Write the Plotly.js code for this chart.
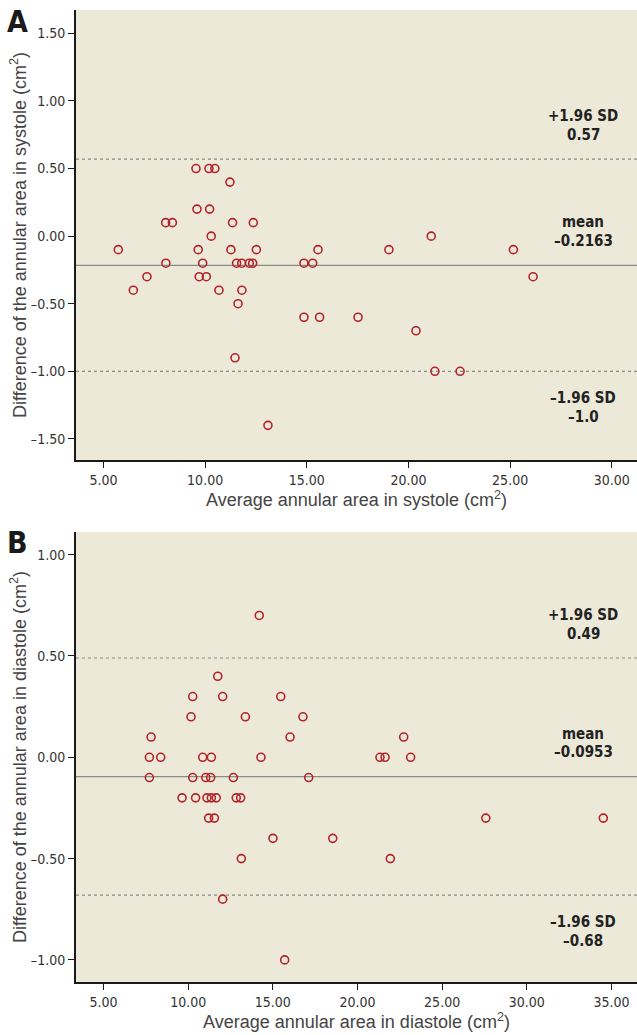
<!DOCTYPE html>
<html>
<head>
<meta charset="utf-8">
<script src="https://cdn.plot.ly/plotly-3.0.1.min.js"></script>
<style>html,body{margin:0;padding:0;background:#fff;}#chart{width:637px;height:1035px;}</style>
</head>
<body>
<div id="chart"></div>
<script>
// Panel A: systole
const xA = [5.73, 6.47, 7.14, 8.06, 8.39, 8.07, 9.55, 9.60, 9.66, 9.71, 9.88, 10.06, 10.19, 10.22, 10.30, 10.48, 10.68, 11.22, 11.27, 11.35, 11.47, 11.55, 11.62, 11.80, 11.81, 12.17, 12.34, 12.37, 12.52, 13.09, 14.86, 14.86, 15.29, 15.55, 15.63, 17.52, 19.04, 20.37, 21.12, 21.30, 22.54, 25.16, 26.13];
const yA = [-0.1, -0.4, -0.3, 0.1, 0.1, -0.2, 0.5, 0.2, -0.1, -0.3, -0.2, -0.3, 0.5, 0.2, 0.0, 0.5, -0.4, 0.4, -0.1, 0.1, -0.9, -0.2, -0.5, -0.2, -0.4, -0.2, -0.2, 0.1, -0.1, -1.4, -0.2, -0.6, -0.2, -0.1, -0.6, -0.6, -0.1, -0.7, 0.0, -1.0, -1.0, -0.1, -0.3];
// Panel B: diastole
const xB = [7.71, 7.71, 7.81, 8.38, 9.64, 10.17, 10.27, 10.27, 10.44, 10.86, 11.04, 11.11, 11.21, 11.33, 11.37, 11.37, 11.55, 11.66, 11.75, 12.04, 12.04, 12.67, 12.84, 13.10, 13.14, 13.38, 14.20, 14.30, 15.01, 15.47, 15.70, 16.02, 16.78, 17.12, 18.54, 21.33, 21.63, 21.94, 22.73, 23.14, 27.58, 34.52];
const yB = [0.0, -0.1, 0.1, 0.0, -0.2, 0.2, 0.3, -0.1, -0.2, 0.0, -0.1, -0.2, -0.3, -0.1, 0.0, -0.2, -0.3, -0.2, 0.4, 0.3, -0.7, -0.1, -0.2, -0.2, -0.5, 0.2, 0.7, 0.0, -0.4, 0.3, -1.0, 0.1, 0.2, -0.1, -0.4, 0.0, 0.0, -0.5, 0.1, 0.0, -0.3, -0.3];

// Limits of agreement: [+1.96 SD, mean, -1.96 SD]
const linesA = [0.57, -0.2163, -1.0];
const linesB = [0.49, -0.0953, -0.68];
const lineNames = ['+1.96 SD', 'mean', '\u20131.96 SD'];
const lineTextA = ['0.57', '\u20130.2163', '\u20131.0'];
const lineTextB = ['0.49', '\u20130.0953', '\u20130.68'];

// Tick values
const xTicksA = [5, 10, 15, 20, 25, 30];
const yTicksA = [1.5, 1.0, 0.5, 0.0, -0.5, -1.0, -1.5];
const xTicksB = [5, 10, 15, 20, 25, 30, 35];
const yTicksB = [1.0, 0.5, 0.0, -0.5, -1.0];

const titlesA = {x: 'Average annular area in systole (cm<sup>2</sup>)', y: 'Difference of the annular area in systole (cm<sup>2</sup>)'};
const titlesB = {x: 'Average annular area in diastole (cm<sup>2</sup>)', y: 'Difference of the annular area in diastole (cm<sup>2</sup>)'};
const panelLetters = ['A', 'B'];

const fmt = v => (v < 0 ? '\u2013' : '') + Math.abs(v).toFixed(2);

const markerStyle = {symbol: 'circle-open', size: 8, color: '#B3232A', line: {width: 1.6, color: '#B3232A'}};

const traces = [
  {x: xA, y: yA, type: 'scatter', mode: 'markers', marker: markerStyle, xaxis: 'x', yaxis: 'y', hoverinfo: 'x+y'},
  {x: xB, y: yB, type: 'scatter', mode: 'markers', marker: markerStyle, xaxis: 'x2', yaxis: 'y2', hoverinfo: 'x+y'}
];

const condensed = '"DejaVu Sans Condensed", "Liberation Sans Narrow", sans-serif';
const tickFont = {family: condensed, size: 14, color: '#333'};
const titleFont = {family: '"Liberation Sans", Arial, sans-serif', size: 18, color: '#444'};
const labelFont = {family: condensed, size: 15, color: '#222', weight: 'bold'};

function xAxis(range, ticks, title, anchor) {
  return {
    range: range, anchor: anchor, tickmode: 'array', tickvals: ticks, ticktext: ticks.map(fmt),
    showgrid: false, zeroline: false, showline: true, linecolor: '#1a1a1a', linewidth: 2,
    ticks: 'outside', ticklen: 6, tickwidth: 1, tickcolor: '#1a1a1a', tickfont: tickFont,
    title: {text: title, font: titleFont, standoff: 1}, automargin: false, mirror: false
  };
}
function yAxis(range, ticks, title, anchor, domain) {
  return {
    range: range, anchor: anchor, domain: domain, tickmode: 'array', tickvals: ticks, ticktext: ticks.map(fmt),
    showgrid: false, zeroline: false, showline: true, linecolor: '#1a1a1a', linewidth: 2,
    ticks: 'outside', ticklen: 6, tickwidth: 1, tickcolor: '#1a1a1a', tickfont: tickFont,
    title: {text: title, font: titleFont, standoff: 0}, automargin: false
  };
}

const shapes = [];
const annotations = [];
function addLines(vals, texts, xref, yref) {
  vals.forEach((v, i) => {
    shapes.push({type: 'line', xref: xref + ' domain', yref: yref, x0: 0, x1: 1, y0: v, y1: v,
      line: {color: '#8a8a8a', width: i === 1 ? 1.3 : 1.2, dash: i === 1 ? 'solid' : 'dot'}, layer: 'below'});
    const above = i !== 2;
    annotations.push({xref: xref + ' domain', yref: yref, x: 0.904, y: v, yshift: above ? 43 : -27,
      text: lineNames[i], showarrow: false, font: labelFont, xanchor: 'center', yanchor: 'middle'});
    annotations.push({xref: xref + ' domain', yref: yref, x: 0.904, y: v, yshift: above ? 24.5 : -45.5,
      text: texts[i], showarrow: false, font: labelFont, xanchor: 'center', yanchor: 'middle'});
  });
}
addLines(linesA, lineTextA, 'x', 'y');
addLines(linesB, lineTextB, 'x2', 'y2');

const letterFont = {family: condensed, size: 30, color: '#1a1a1a', weight: 'bold'};
annotations.push({xref: 'paper', yref: 'paper', x: -0.104, y: 0.979, text: panelLetters[0], showarrow: false,
  font: letterFont, xanchor: 'center', yanchor: 'middle'});
annotations.push({xref: 'paper', yref: 'paper', x: -0.104, y: 0.4755, text: panelLetters[1], showarrow: false,
  font: letterFont, xanchor: 'center', yanchor: 'middle'});

const layout = {
  width: 637, height: 1035,
  margin: {l: 76, r: 0, t: 0, b: 0, pad: 0},
  paper_bgcolor: '#ffffff', plot_bgcolor: '#ECE9D8',
  showlegend: false,
  xaxis: xAxis([3.65, 31.24], xTicksA, titlesA.x, 'y'),
  yaxis: yAxis([-1.656, 1.673], yTicksA, titlesA.y, 'x', [0.5556, 0.9903]),
  xaxis2: xAxis([3.376, 36.51], xTicksB, titlesB.x, 'y2'),
  yaxis2: yAxis([-1.109, 1.112], yTicksB, titlesB.y, 'x2', [0.0512, 0.4860]),
  shapes: shapes,
  annotations: annotations
};

Plotly.newPlot('chart', traces, layout, {displayModeBar: false, staticPlot: true});
</script>
</body>
</html>
